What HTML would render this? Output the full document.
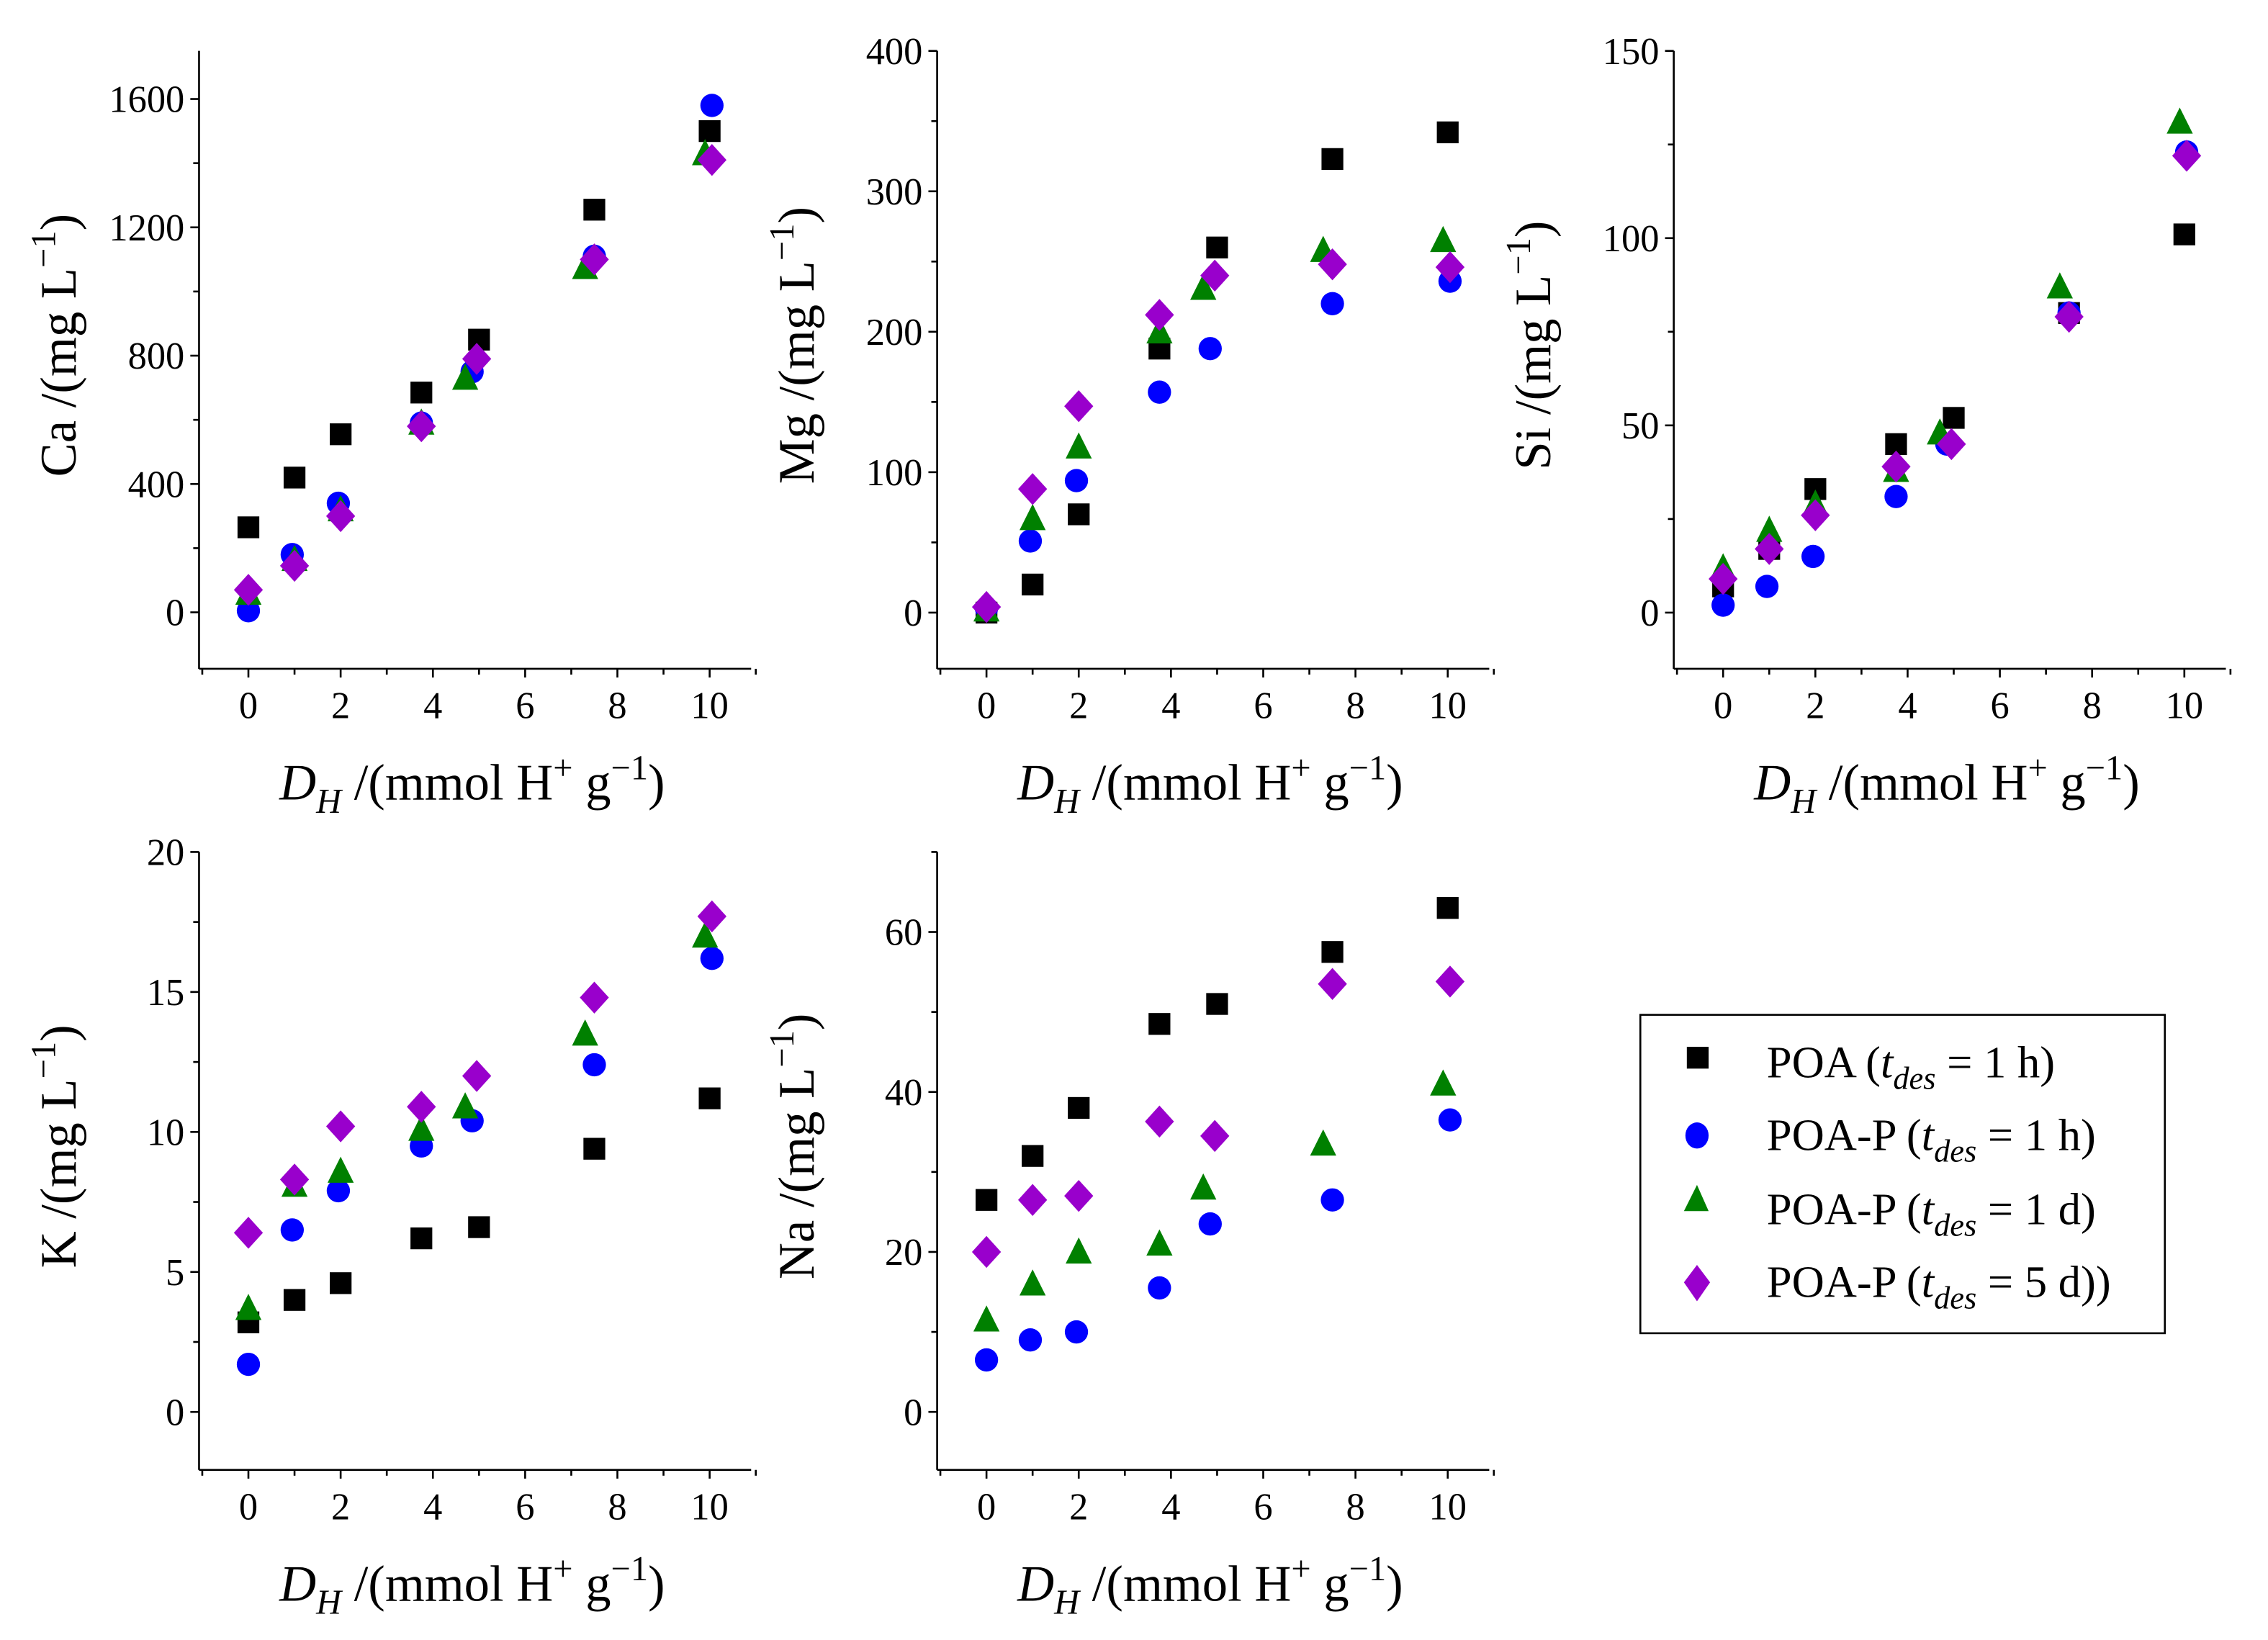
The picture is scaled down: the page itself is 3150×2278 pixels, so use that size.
<!DOCTYPE html>
<html><head><meta charset="utf-8"><style>
html,body{margin:0;padding:0;background:#fff;}
svg{display:block;font-family:"Liberation Serif",serif;}
text{font-family:"Liberation Serif",serif;}
</style></head><body>
<svg id="fig" width="3150" height="2278" viewBox="0 0 1561 1128" preserveAspectRatio="none" xmlns="http://www.w3.org/2000/svg">
<g>
<rect x="1129" y="698" width="361" height="219" fill="#fff" stroke="#000" stroke-width="1.3"/>
<g><rect x="1161" y="720" width="15" height="15" fill="#000"/><text x="1216" y="741" font-size="31">POA (<tspan font-style="italic">t</tspan><tspan font-style="italic" font-size="22" dy="8">des</tspan><tspan dy="-8"> = 1 h)</tspan></text></g>
<g><ellipse cx="1168" cy="781" rx="8" ry="9" fill="#0000ff"/><text x="1216" y="791" font-size="31">POA-P (<tspan font-style="italic">t</tspan><tspan font-style="italic" font-size="22" dy="8">des</tspan><tspan dy="-8"> = 1 h)</tspan></text></g>
<g><polygon points="1168,815 1176,833 1159,833" fill="#008000"/><text x="1216" y="842" font-size="31">POA-P (<tspan font-style="italic">t</tspan><tspan font-style="italic" font-size="22" dy="8">des</tspan><tspan dy="-8"> = 1 d)</tspan></text></g>
<g><polygon points="1168,870 1177,882 1168,895 1159,882" fill="#9900cc"/><text x="1216" y="892" font-size="31">POA-P (<tspan font-style="italic">t</tspan><tspan font-style="italic" font-size="22" dy="8">des</tspan><tspan dy="-8"> = 5 d))</tspan></text></g>
</g>
</svg>
<script>
const xTicks=[0,2,4,6,8,10];
// Ca
const caX1=[0,1,2,3.75,5,7.5,10], caPOA=[265,420,555,685,850,1255,1500];
const caX2=[0,0.95,1.95,3.75,4.85,7.5,10.05], caP1h=[5,180,340,590,750,1110,1580];
const caX3=[0,1,2,3.75,4.7,7.3,9.9], caP1d=[60,165,320,590,730,1075,1430];
const caX4=[0,1,2,3.75,4.95,7.5,10.05], caP5d=[70,145,300,580,790,1100,1410];
const caTicks=[0,400,800,1200,1600];
// Mg
const mgPOA=[0,20,70,188,260,323,342], mgP1h=[3,51,94,157,188,220,236], mgP1d=[2,67,118,200,231,258,265], mgP5d=[4,88,147,212,240,248,246];
const mgTicks=[0,100,200,300,400];
// Si
const siPOA=[7,17,33,45,52,80,101], siP1h=[2,7,15,31,45,80,123], siP1d=[12,22,29,38,48,87,131], siP5d=[9,17,26,39,45,79,122];
const siTicks=[0,50,100,150];
// K
const kPOA=[3.2,4,4.6,6.2,6.6,9.4,11.2], kP1h=[1.7,6.5,7.9,9.5,10.4,12.4,16.2], kP1d=[3.7,8.1,8.6,10.1,10.9,13.5,17], kP5d=[6.4,8.3,10.2,10.9,12,14.8,17.7];
const kTicks=[0,5,10,15,20];
// Na
const naPOA=[26.5,32,38,48.5,51,57.5,63], naP1h=[6.5,9,10,15.5,23.5,26.5,36.5], naP1d=[11.5,16,20,21,28,33.5,41], naP5d=[20,26.5,27,36.3,34.5,53.5,53.8];
const naTicks=[0,20,40,60];

const NS="http://www.w3.org/2000/svg";
const svg=document.getElementById('fig');
function mk(tag,attrs,parent){const e=document.createElementNS(NS,tag);for(const k in attrs)e.setAttribute(k,attrs[k]);parent.appendChild(e);return e;}

function panel(name,label,L,T,ymin,ymax,yTicks,series){
  const R=L+380,B=T+425;
  const xmin=-1.07,xmax=10.9;
  const sx=v=>L+(v-xmin)/(xmax-xmin)*(R-L);
  const sy=v=>B-(v-ymin)/(ymax-ymin)*(B-T);
  const g=mk('g',{},svg);
  
  
  const ax=mk('g',{stroke:'#000','stroke-width':1.3},g);
  
  
  mk('line',{x1:L,y1:T,x2:L,y2:B},ax);
  mk('line',{x1:L,y1:B,x2:R,y2:B},ax);
  for(let v=-1;v<=11;v++){const x=sx(v);const maj=xTicks.includes(v);mk('line',{x1:x,y1:B,x2:x,y2:B+(maj?6:4)},ax);}
  xTicks.forEach(v=>{const t=mk('text',{x:sx(v),y:B+34,'font-size':26,'text-anchor':'middle'},g);t.textContent=v;
    
    });
  const step=yTicks[1]-yTicks[0];
  for(let v=yTicks[0]-step/2;v<=ymax;v+=step/2){if(v<ymin)continue;const y=sy(v);const maj=yTicks.some(t=>Math.abs(t-v)<1e-9);mk('line',{x1:L,y1:y,x2:L-(maj?6:4),y2:y},ax);}
  yTicks.forEach(v=>{const t=mk('text',{x:L-10,y:sy(v)+9,'font-size':26,'text-anchor':'end'},g);t.textContent=v;
    
    });
  const cx=(L+R)/2-2;
  const xt=mk('text',{x:cx,y:B+90,'font-size':35,'text-anchor':'middle'},g);
  xt.innerHTML='<tspan font-style="italic">D</tspan><tspan font-style="italic" font-size="24" dy="9">H</tspan><tspan dy="-9"> /(mmol H</tspan><tspan font-size="24" dy="-14">+</tspan><tspan dy="14"> g</tspan><tspan font-size="24" dy="-14">−1</tspan><tspan dy="14">)</tspan>';
  
  
  const yt=mk('text',{transform:`translate(${L-85},${(T+B)/2-10}) rotate(-90)`,'font-size':35,'text-anchor':'middle'},g);
  yt.innerHTML=label+' /(mg L<tspan font-size="24" dy="-14">−1</tspan><tspan dy="14">)</tspan>';
  
  
  const X=[caX1,caX2,caX3,caX4];
  const shapes=['square','circle','triangle','diamond'];
  const colors=['#000','#0000ff','#008000','#9900cc'];
  series.forEach((vals,si)=>{
    vals.forEach((v,i)=>{
      const x=sx(X[si][i]),y=sy(v);let e;
      if(si===0)e=mk('rect',{x:x-7.5,y:y-7.5,width:15,height:15,fill:colors[0]},g);
      else if(si===1)e=mk('ellipse',{cx:x,cy:y,rx:8,ry:8,fill:colors[1]},g);
      else if(si===2)e=mk('polygon',{points:`${x},${y-10} ${x+9},${y+8} ${x-9},${y+8}`,fill:colors[2]},g);
      else e=mk('polygon',{points:`${x},${y-11} ${x+10},${y} ${x},${y+11} ${x-10},${y}`,fill:colors[3]},g);
      
      
    });
  });
}
panel('ca','Ca',137,35,-176,1750,caTicks,[caPOA,caP1h,caP1d,caP5d]);
panel('mg','Mg',645,35,-40,400,mgTicks,[mgPOA,mgP1h,mgP1d,mgP5d]);
panel('si','Si',1152,35,-15,150,siTicks,[siPOA,siP1h,siP1d,siP5d]);
panel('k','K',137,586,-2.07,20,kTicks,[kPOA,kP1h,kP1d,kP5d]);
panel('na','Na',645,586,-7.25,70,naTicks,[naPOA,naP1h,naP1d,naP5d]);
</script>
</body></html>
